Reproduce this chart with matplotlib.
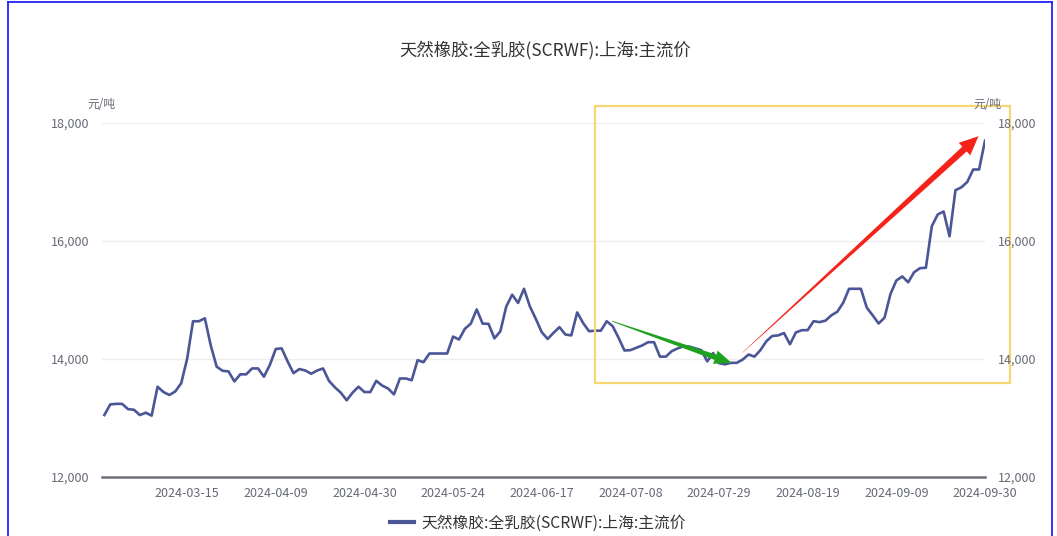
"""
天然橡胶:全乳胶(SCRWF):上海:主流价 走势图，输出 out.png。
"""

import matplotlib

matplotlib.use("Agg")
import matplotlib.pyplot as plt
import numpy as np
from matplotlib.patches import Polygon, Rectangle

plt.rcParams["font.family"] = ["Noto Sans CJK SC", "DejaVu Sans"]

TITLE = "天然橡胶:全乳胶(SCRWF):上海:主流价"
UNIT = "元/吨"

# 交易日序列（按图读数，单位 元/吨）
price = [
    13050, 13230, 13240, 13240, 13150, 13140, 13050, 13090, 13040, 13530,
    13440, 13390, 13450, 13590, 14000, 14640, 14640, 14690, 14230, 13870,
    13800, 13790, 13620, 13740, 13740, 13840, 13840, 13700, 13900, 14170,
    14180, 13960, 13760, 13830, 13805, 13750, 13805, 13840, 13630, 13520,
    13430, 13300, 13430, 13530, 13440, 13440, 13630, 13550, 13500, 13400,
    13670, 13670, 13640, 13980, 13946, 14093, 14093, 14093, 14093, 14380,
    14330, 14512, 14600, 14840, 14600, 14596, 14350, 14470, 14890, 15090,
    14950, 15190, 14890, 14680, 14455, 14340, 14444, 14540, 14415, 14400,
    14790, 14610, 14471, 14480, 14480, 14640, 14556, 14360, 14144, 14150,
    14190, 14230, 14285, 14285, 14040, 14040, 14133, 14180, 14215, 14210,
    14180, 14150, 13960, 14100, 13930, 13910, 13935, 13935, 13990, 14076,
    14040, 14150, 14300, 14390, 14400, 14440, 14250, 14450, 14488, 14490,
    14641, 14625, 14650, 14740, 14800, 14952, 15190, 15190, 15190, 14870,
    14740, 14602, 14700, 15100, 15330, 15400, 15300, 15470, 15540, 15546,
    16250, 16450, 16500, 16080, 16860, 16910, 17000, 17212, 17212, 17700,
]

# x 轴标签：每 15 个交易日一个
tick_pos = [14, 29, 44, 59, 74, 89, 104, 119, 134, 149]
tick_labels = [
    "2024-03-15", "2024-04-09", "2024-04-30", "2024-05-24", "2024-06-17",
    "2024-07-08", "2024-07-29", "2024-08-19", "2024-09-09", "2024-09-30",
]
y_ticks = [12000, 14000, 16000, 18000]

# 标注：黄色框（索引/价格范围），绿色、红色趋势箭头（起点 -> 终点）
box_x = [83.0, 153.2]
box_y = [13585, 18280]
green_arrow = [(85.9, 14641), (106.1, 13935)]
red_arrow = [(108.0, 14110), (147.9, 17776)]

LINE_C = "#4b5697"
TXT_C = "#666a75"


def tapered_arrow(ax, start, end, color, body_w, head_w, head_len, start_w=0.0):
    # 在像素坐标里做锥形箭头，再换回数据坐标
    T = ax.transData
    p0 = np.array(T.transform(start))
    p1 = np.array(T.transform(end))
    d = p1 - p0
    u = d / np.hypot(*d)
    n = np.array([-u[1], u[0]])
    base = p1 - u * head_len
    pts = [
        p0 + n * start_w / 2,
        base + n * body_w / 2,
        base + n * head_w / 2,
        p1,
        base - n * head_w / 2,
        base - n * body_w / 2,
        p0 - n * start_w / 2,
    ]
    pts = T.inverted().transform(np.array(pts))
    ax.add_patch(Polygon(pts, closed=True, facecolor=color, edgecolor="none",
                         clip_on=False, zorder=5))


def main():
    W, H = 1057, 536
    fig = plt.figure(figsize=(W / 100, H / 100), dpi=100)
    ax = fig.add_axes([102 / W, (H - 477) / H, (985 - 102) / W, (477 - 123) / H])

    x = np.arange(len(price))
    ax.plot(x, price, color=LINE_C, lw=1.9, solid_joinstyle="round", zorder=3)

    ax.set_xlim(-0.4, 149)
    ax.set_ylim(12000, 18000)
    ax.set_yticks(y_ticks)
    ax.set_yticklabels([f"{v:,}" for v in y_ticks])
    ax.set_xticks(tick_pos)
    ax.set_xticklabels(tick_labels)
    ax.tick_params(axis="both", length=0, labelsize=9, colors=TXT_C)
    ax.tick_params(axis="x", pad=7)
    ax.tick_params(axis="y", pad=9)

    for v in y_ticks[1:]:
        ax.axhline(v, color="#eeeeee", lw=1, zorder=1)
    for s in ["top", "right", "left"]:
        ax.spines[s].set_visible(False)
    ax.spines["bottom"].set_color("#6e7079")
    ax.spines["bottom"].set_linewidth(1.8)

    # 右侧轴刻度
    ax2 = ax.twinx()
    ax2.set_ylim(ax.get_ylim())
    ax2.set_yticks(y_ticks)
    ax2.set_yticklabels([f"{v:,}" for v in y_ticks])
    ax2.tick_params(axis="y", length=0, labelsize=9, colors=TXT_C, pad=9)
    for s in ax2.spines.values():
        s.set_visible(False)

    fig.text(101 / W, 1 - 104 / H, UNIT, ha="center", va="center", fontsize=8.5, color=TXT_C)
    fig.text(987 / W, 1 - 104 / H, UNIT, ha="center", va="center", fontsize=8.5, color=TXT_C)
    fig.text(545 / W, 1 - 50 / H, TITLE, ha="center", va="center", fontsize=12.5, color="#333333")

    # 黄色框
    ax.add_patch(Rectangle((box_x[0], box_y[0]), box_x[1] - box_x[0], box_y[1] - box_y[0],
                           fill=False, edgecolor="#f7d774", lw=1.6, clip_on=False, zorder=4))
    tapered_arrow(ax, green_arrow[0], green_arrow[1], "#1fa21f", 5.5, 14, 17, start_w=0.8)
    tapered_arrow(ax, red_arrow[0], red_arrow[1], "#f5231a", 6.5, 17, 19, start_w=0.3)

    # 图例
    h, = ax.plot([], [], color=LINE_C, lw=3)
    fig.legend([h], [TITLE], loc="center", bbox_to_anchor=(538 / W, 1 - 523 / H),
               frameon=False, fontsize=11.3, handlelength=1.5, handletextpad=0.5,
               labelcolor="#333333")

    # 截图外框
    fig.add_artist(plt.Line2D([8 / W, 8 / W], [0, 1 - 2 / H], color="#2222ff", lw=1.3))
    fig.add_artist(plt.Line2D([8 / W, 1052 / W], [1 - 2 / H, 1 - 2 / H], color="#2222ff", lw=1.3))
    fig.add_artist(plt.Line2D([1052 / W, 1052 / W], [0, 1 - 2 / H], color="#2222ff", lw=1.3))

    fig.savefig("out.png", dpi=100)


if __name__ == "__main__":
    main()
